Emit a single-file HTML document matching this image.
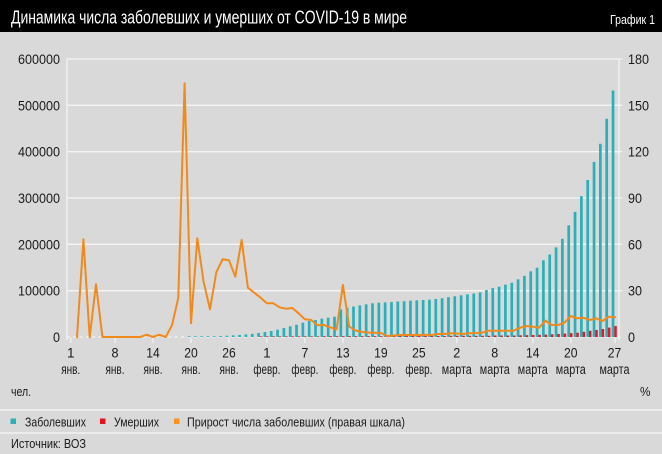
<!DOCTYPE html>
<html><head><meta charset="utf-8">
<style>
html,body{margin:0;padding:0;background:#d9d9d9;}
svg{display:block;}
text{font-family:"Liberation Sans Narrow","Liberation Sans","DejaVu Sans Condensed",sans-serif;fill:#1a1a1a;}
</style></head>
<body>
<svg width="662" height="454" viewBox="0 0 662 454" xmlns="http://www.w3.org/2000/svg">
<rect x="0" y="0" width="662" height="454" fill="#d9d9d9"/>
<rect x="0" y="0" width="662" height="32" fill="#000"/>
<text x="11" y="23.5" font-size="18" textLength="396" lengthAdjust="spacingAndGlyphs" style="fill:#fff">Динамика числа заболевших и умерших от COVID-19 в мире</text>
<text x="610" y="24" font-size="13" textLength="45" lengthAdjust="spacingAndGlyphs" style="fill:#fff">График 1</text>

<!-- grid -->
<g stroke="#f4f4f4" stroke-width="1.3">
<line x1="67" y1="59" x2="622" y2="59"/>
<line x1="67" y1="105.3" x2="622" y2="105.3"/>
<line x1="67" y1="151.7" x2="622" y2="151.7"/>
<line x1="67" y1="198" x2="622" y2="198"/>
<line x1="67" y1="244.3" x2="622" y2="244.3"/>
<line x1="67" y1="290.7" x2="622" y2="290.7"/>
<line x1="67" y1="58.5" x2="67" y2="340"/>
<line x1="619" y1="58.5" x2="619" y2="340"/>
</g>
<line x1="67" y1="337" x2="622" y2="337" stroke="#f4f4f4" stroke-width="1.3" stroke-dasharray="3 3.33"/>
<!-- x ticks -->
<g stroke="#f4f4f4" stroke-width="1.2">
<line x1="70.7" y1="338" x2="70.7" y2="343"/>
<line x1="115" y1="338" x2="115" y2="343"/>
<line x1="153" y1="338" x2="153" y2="343"/>
<line x1="191" y1="338" x2="191" y2="343"/>
<line x1="229" y1="338" x2="229" y2="343"/>
<line x1="266.9" y1="338" x2="266.9" y2="343"/>
<line x1="304.9" y1="338" x2="304.9" y2="343"/>
<line x1="342.9" y1="338" x2="342.9" y2="343"/>
<line x1="380.9" y1="338" x2="380.9" y2="343"/>
<line x1="418.9" y1="338" x2="418.9" y2="343"/>
<line x1="456.8" y1="338" x2="456.8" y2="343"/>
<line x1="494.8" y1="338" x2="494.8" y2="343"/>
<line x1="532.8" y1="338" x2="532.8" y2="343"/>
<line x1="570.8" y1="338" x2="570.8" y2="343"/>
<line x1="615.1" y1="338" x2="615.1" y2="343"/>
</g>

<!-- teal bars -->
<g fill="#2ab0b8" transform="translate(-0.3,0)">
<rect x="187.87" y="336.2" width="2.7" height="0.8"/>
<rect x="194.20" y="336.2" width="2.7" height="0.8"/>
<rect x="200.53" y="336.2" width="2.7" height="0.8"/>
<rect x="206.86" y="336.2" width="2.7" height="0.8"/>
<rect x="213.19" y="336.2" width="2.7" height="0.8"/>
<rect x="219.52" y="336.07" width="2.7" height="0.93"/>
<rect x="225.85" y="335.7" width="2.7" height="1.3"/>
<rect x="232.18" y="335.38" width="2.7" height="1.62"/>
<rect x="238.51" y="334.92" width="2.7" height="2.08"/>
<rect x="244.84" y="334.45" width="2.7" height="2.55"/>
<rect x="251.17" y="333.85" width="2.7" height="3.15"/>
<rect x="257.50" y="333.02" width="2.7" height="3.98"/>
<rect x="263.83" y="332.0" width="2.7" height="5.0"/>
<rect x="270.16" y="331.02" width="2.7" height="5.98"/>
<rect x="276.49" y="329.68" width="2.7" height="7.32"/>
<rect x="282.82" y="328.01" width="2.7" height="8.99"/>
<rect x="289.15" y="326.34" width="2.7" height="10.66"/>
<rect x="295.48" y="324.68" width="2.7" height="12.32"/>
<rect x="301.81" y="322.64" width="2.7" height="14.36"/>
<rect x="308.14" y="321.02" width="2.7" height="15.98"/>
<rect x="314.47" y="320.0" width="2.7" height="17.0"/>
<rect x="320.80" y="318.65" width="2.7" height="18.35"/>
<rect x="327.13" y="317.68" width="2.7" height="19.32"/>
<rect x="333.46" y="316.66" width="2.7" height="20.34"/>
<rect x="339.79" y="309.34" width="2.7" height="27.66"/>
<rect x="346.12" y="307.81" width="2.7" height="29.19"/>
<rect x="352.45" y="306.51" width="2.7" height="30.49"/>
<rect x="358.78" y="305.36" width="2.7" height="31.64"/>
<rect x="365.11" y="304.34" width="2.7" height="32.66"/>
<rect x="371.44" y="303.32" width="2.7" height="33.68"/>
<rect x="377.77" y="302.67" width="2.7" height="34.33"/>
<rect x="384.10" y="302.44" width="2.7" height="34.56"/>
<rect x="390.43" y="302.02" width="2.7" height="34.98"/>
<rect x="396.76" y="301.51" width="2.7" height="35.49"/>
<rect x="403.09" y="301.23" width="2.7" height="35.77"/>
<rect x="409.42" y="300.68" width="2.7" height="36.32"/>
<rect x="415.75" y="300.35" width="2.7" height="36.65"/>
<rect x="422.08" y="299.98" width="2.7" height="37.02"/>
<rect x="428.41" y="299.66" width="2.7" height="37.34"/>
<rect x="434.74" y="299.01" width="2.7" height="37.99"/>
<rect x="441.07" y="298.22" width="2.7" height="38.78"/>
<rect x="447.40" y="297.16" width="2.7" height="39.84"/>
<rect x="453.73" y="296.23" width="2.7" height="40.77"/>
<rect x="460.06" y="295.30" width="2.7" height="41.70"/>
<rect x="466.39" y="294.38" width="2.7" height="42.62"/>
<rect x="472.72" y="293.45" width="2.7" height="43.55"/>
<rect x="479.05" y="292.34" width="2.7" height="44.66"/>
<rect x="485.38" y="289.98" width="2.7" height="47.02"/>
<rect x="491.71" y="288.12" width="2.7" height="48.88"/>
<rect x="498.04" y="286.73" width="2.7" height="50.27"/>
<rect x="504.37" y="284.65" width="2.7" height="52.35"/>
<rect x="510.70" y="282.79" width="2.7" height="54.21"/>
<rect x="517.03" y="279.32" width="2.7" height="57.68"/>
<rect x="523.36" y="275.84" width="2.7" height="61.16"/>
<rect x="529.69" y="271.35" width="2.7" height="65.65"/>
<rect x="536.02" y="267.69" width="2.7" height="69.31"/>
<rect x="542.35" y="260.32" width="2.7" height="76.68"/>
<rect x="548.68" y="254.53" width="2.7" height="82.47"/>
<rect x="555.01" y="247.35" width="2.7" height="89.65"/>
<rect x="561.34" y="238.78" width="2.7" height="98.22"/>
<rect x="567.67" y="225.34" width="2.7" height="111.66"/>
<rect x="574.00" y="211.91" width="2.7" height="125.09"/>
<rect x="580.33" y="196.16" width="2.7" height="140.84"/>
<rect x="586.66" y="179.94" width="2.7" height="157.06"/>
<rect x="592.99" y="161.87" width="2.7" height="175.13"/>
<rect x="599.32" y="143.80" width="2.7" height="193.20"/>
<rect x="605.65" y="118.79" width="2.7" height="218.21"/>
<rect x="611.98" y="90.52" width="2.7" height="246.48"/>
</g>

<!-- red bars -->
<g fill="#d81e28">
<rect x="259.80" y="336.4" width="2.5" height="0.6"/>
<rect x="266.13" y="336.4" width="2.5" height="0.6"/>
<rect x="272.46" y="336.4" width="2.5" height="0.6"/>
<rect x="278.79" y="336.4" width="2.5" height="0.6"/>
<rect x="285.12" y="336.4" width="2.5" height="0.6"/>
<rect x="291.45" y="336.4" width="2.5" height="0.6"/>
<rect x="297.78" y="336.4" width="2.5" height="0.6"/>
<rect x="304.11" y="336.4" width="2.5" height="0.6"/>
<rect x="310.44" y="336.4" width="2.5" height="0.6"/>
<rect x="316.77" y="336.4" width="2.5" height="0.6"/>
<rect x="323.10" y="336.2" width="2.5" height="0.8"/>
<rect x="329.43" y="336.2" width="2.5" height="0.8"/>
<rect x="335.76" y="336.2" width="2.5" height="0.8"/>
<rect x="342.09" y="336.2" width="2.5" height="0.8"/>
<rect x="348.42" y="336.2" width="2.5" height="0.8"/>
<rect x="354.75" y="336.2" width="2.5" height="0.8"/>
<rect x="361.08" y="336.2" width="2.5" height="0.8"/>
<rect x="367.41" y="336.2" width="2.5" height="0.8"/>
<rect x="373.74" y="336.2" width="2.5" height="0.8"/>
<rect x="380.07" y="336.2" width="2.5" height="0.8"/>
<rect x="386.40" y="336" width="2.5" height="1"/>
<rect x="392.73" y="336" width="2.5" height="1"/>
<rect x="399.06" y="336" width="2.5" height="1"/>
<rect x="405.39" y="336" width="2.5" height="1"/>
<rect x="411.72" y="336" width="2.5" height="1"/>
<rect x="418.05" y="336" width="2.5" height="1"/>
<rect x="424.38" y="336" width="2.5" height="1"/>
<rect x="430.71" y="336" width="2.5" height="1"/>
<rect x="437.04" y="336" width="2.5" height="1"/>
<rect x="443.37" y="336" width="2.5" height="1"/>
<rect x="449.70" y="335.8" width="2.5" height="1.2"/>
<rect x="456.03" y="335.8" width="2.5" height="1.2"/>
<rect x="462.36" y="335.8" width="2.5" height="1.2"/>
<rect x="468.69" y="335.8" width="2.5" height="1.2"/>
<rect x="475.02" y="335.8" width="2.5" height="1.2"/>
<rect x="481.35" y="335.8" width="2.5" height="1.2"/>
<rect x="487.68" y="335.8" width="2.5" height="1.2"/>
<rect x="494.01" y="335.5" width="2.5" height="1.5"/>
<rect x="500.34" y="335.5" width="2.5" height="1.5"/>
<rect x="506.67" y="335.5" width="2.5" height="1.5"/>
<rect x="513.00" y="335.5" width="2.5" height="1.5"/>
<rect x="519.33" y="335.3" width="2.5" height="1.7"/>
<rect x="525.66" y="335.2" width="2.5" height="1.8"/>
<rect x="531.99" y="335.0" width="2.5" height="2.0"/>
<rect x="538.32" y="334.8" width="2.5" height="2.2"/>
<rect x="544.65" y="334.6" width="2.5" height="2.4"/>
<rect x="550.98" y="334.3" width="2.5" height="2.7"/>
<rect x="557.31" y="334.0" width="2.5" height="3.0"/>
<rect x="563.64" y="333.6" width="2.5" height="3.4"/>
<rect x="569.97" y="333.1" width="2.5" height="3.9"/>
<rect x="576.30" y="332.7" width="2.5" height="4.3"/>
<rect x="582.63" y="331.8" width="2.5" height="5.2"/>
<rect x="588.96" y="330.8" width="2.5" height="6.2"/>
<rect x="595.29" y="330.0" width="2.5" height="7.0"/>
<rect x="601.62" y="329.0" width="2.5" height="8.0"/>
<rect x="607.95" y="327.6" width="2.5" height="9.4"/>
<rect x="614.28" y="326.1" width="2.5" height="10.9"/>
</g>

<!-- orange line -->
<polyline fill="none" stroke="#f18a1d" stroke-width="2" stroke-linejoin="round" stroke-linecap="round" points="77.0,337.3 83.4,239.3 89.7,337.3 96.0,284.3 102.4,337 108.7,337 115.0,337 121.3,337 127.7,337 134.0,337 140.3,337 146.7,334.7 153.0,337 159.3,334.7 165.7,337 172.0,325.3 178.3,298 184.6,83.3 191.0,323.3 197.3,238.3 203.6,281.7 210.0,309.3 216.3,272.3 222.6,259.3 229.0,260.3 235.3,276.7 241.6,240 247.9,287.7 254.3,292.7 260.6,297.7 266.9,303.3 273.3,303.3 279.6,307.3 285.9,308.7 292.3,308 298.6,313.3 304.9,319.3 311.2,320 317.6,325.3 323.9,325 330.2,327.3 336.6,329.3 342.9,285 349.2,326.5 355.6,330.5 361.9,332 368.2,332.5 374.5,332.7 380.9,333 387.2,336 393.5,335.5 399.9,335 406.2,335 412.5,335 418.9,335 425.2,334.7 431.5,335 437.8,334 444.2,334 450.5,333.3 456.8,333.5 463.2,334 469.5,333.3 475.8,333 482.2,332.7 488.5,330.7 494.8,330.7 501.1,330.7 507.5,330.7 513.8,330.7 520.1,327.7 526.5,326 532.8,326.7 539.1,327.7 545.5,320.7 551.8,325 558.1,325 564.4,322.7 570.8,316 577.1,318.3 583.4,317.7 589.8,320 596.1,318.3 602.4,321 608.8,316.7 615.1,317.3"/>

<!-- left axis labels -->
<g font-size="13.5" text-anchor="end">
<text x="60" y="64" textLength="42" lengthAdjust="spacingAndGlyphs">600000</text>
<text x="60" y="110.3" textLength="42" lengthAdjust="spacingAndGlyphs">500000</text>
<text x="60" y="156.7" textLength="42" lengthAdjust="spacingAndGlyphs">400000</text>
<text x="60" y="203" textLength="42" lengthAdjust="spacingAndGlyphs">300000</text>
<text x="60" y="249.3" textLength="42" lengthAdjust="spacingAndGlyphs">200000</text>
<text x="60" y="295.7" textLength="42" lengthAdjust="spacingAndGlyphs">100000</text>
<text x="60" y="342" textLength="7" lengthAdjust="spacingAndGlyphs">0</text>
</g>
<!-- right axis labels -->
<g font-size="13.5">
<text x="628" y="64" textLength="21" lengthAdjust="spacingAndGlyphs">180</text>
<text x="628" y="110.3" textLength="21" lengthAdjust="spacingAndGlyphs">150</text>
<text x="628" y="156.7" textLength="21" lengthAdjust="spacingAndGlyphs">120</text>
<text x="628" y="203" textLength="14" lengthAdjust="spacingAndGlyphs">90</text>
<text x="628" y="249.3" textLength="14" lengthAdjust="spacingAndGlyphs">60</text>
<text x="628" y="295.7" textLength="14" lengthAdjust="spacingAndGlyphs">30</text>
<text x="628" y="342" textLength="7" lengthAdjust="spacingAndGlyphs">0</text>
</g>

<!-- x labels -->
<g font-size="13.5" text-anchor="middle">
<text x="70.7" y="357.5">1</text>
<text x="115" y="357.5" textLength="7" lengthAdjust="spacingAndGlyphs">8</text>
<text x="153" y="357.5" textLength="13.5" lengthAdjust="spacingAndGlyphs">14</text>
<text x="191" y="357.5" textLength="13.5" lengthAdjust="spacingAndGlyphs">20</text>
<text x="229" y="357.5" textLength="13.5" lengthAdjust="spacingAndGlyphs">26</text>
<text x="266.9" y="357.5">1</text>
<text x="304.9" y="357.5" textLength="7" lengthAdjust="spacingAndGlyphs">7</text>
<text x="342.9" y="357.5" textLength="13.5" lengthAdjust="spacingAndGlyphs">13</text>
<text x="380.9" y="357.5" textLength="13.5" lengthAdjust="spacingAndGlyphs">19</text>
<text x="418.9" y="357.5" textLength="13.5" lengthAdjust="spacingAndGlyphs">25</text>
<text x="456.8" y="357.5" textLength="7" lengthAdjust="spacingAndGlyphs">2</text>
<text x="494.8" y="357.5" textLength="7" lengthAdjust="spacingAndGlyphs">8</text>
<text x="532.8" y="357.5" textLength="13.5" lengthAdjust="spacingAndGlyphs">14</text>
<text x="570.8" y="357.5" textLength="13.5" lengthAdjust="spacingAndGlyphs">20</text>
<text x="614.5" y="357.5" textLength="13.5" lengthAdjust="spacingAndGlyphs">27</text>

<text x="70.7" y="374" textLength="19" lengthAdjust="spacingAndGlyphs">янв.</text>
<text x="115" y="374" textLength="19" lengthAdjust="spacingAndGlyphs">янв.</text>
<text x="153" y="374" textLength="19" lengthAdjust="spacingAndGlyphs">янв.</text>
<text x="191" y="374" textLength="19" lengthAdjust="spacingAndGlyphs">янв.</text>
<text x="229" y="374" textLength="19" lengthAdjust="spacingAndGlyphs">янв.</text>
<text x="266.9" y="374" textLength="27" lengthAdjust="spacingAndGlyphs">февр.</text>
<text x="304.9" y="374" textLength="27" lengthAdjust="spacingAndGlyphs">февр.</text>
<text x="342.9" y="374" textLength="27" lengthAdjust="spacingAndGlyphs">февр.</text>
<text x="380.9" y="374" textLength="27" lengthAdjust="spacingAndGlyphs">февр.</text>
<text x="418.9" y="374" textLength="27" lengthAdjust="spacingAndGlyphs">февр.</text>
<text x="456.8" y="374" textLength="30" lengthAdjust="spacingAndGlyphs">марта</text>
<text x="494.8" y="374" textLength="30" lengthAdjust="spacingAndGlyphs">марта</text>
<text x="532.8" y="374" textLength="30" lengthAdjust="spacingAndGlyphs">марта</text>
<text x="570.8" y="374" textLength="30" lengthAdjust="spacingAndGlyphs">марта</text>
<text x="614.5" y="374" textLength="30" lengthAdjust="spacingAndGlyphs">марта</text>
</g>

<text x="11" y="396" font-size="13" textLength="20" lengthAdjust="spacingAndGlyphs">чел.</text>
<text x="640" y="396" font-size="13" textLength="10.5" lengthAdjust="spacingAndGlyphs">%</text>

<!-- separators -->
<line x1="0" y1="410" x2="662" y2="410" stroke="#f2f2f2" stroke-width="1.5"/>
<line x1="0" y1="433" x2="662" y2="433" stroke="#f2f2f2" stroke-width="1.5"/>

<!-- legend -->
<rect x="10.5" y="418.5" width="5.5" height="5.5" fill="#2ab0b8"/>
<text x="25" y="426.5" font-size="13" textLength="61" lengthAdjust="spacingAndGlyphs">Заболевших</text>
<rect x="100" y="418.5" width="5.5" height="5.5" fill="#e5141b"/>
<text x="114" y="426.5" font-size="13" textLength="45" lengthAdjust="spacingAndGlyphs">Умерших</text>
<rect x="174" y="418.5" width="5.5" height="5.5" fill="#f7931e"/>
<text x="187" y="426.5" font-size="13" textLength="218" lengthAdjust="spacingAndGlyphs">Прирост числа заболевших (правая шкала)</text>

<text x="11" y="448" font-size="13" textLength="75" lengthAdjust="spacingAndGlyphs">Источник: ВОЗ</text>
</svg>
</body></html>
